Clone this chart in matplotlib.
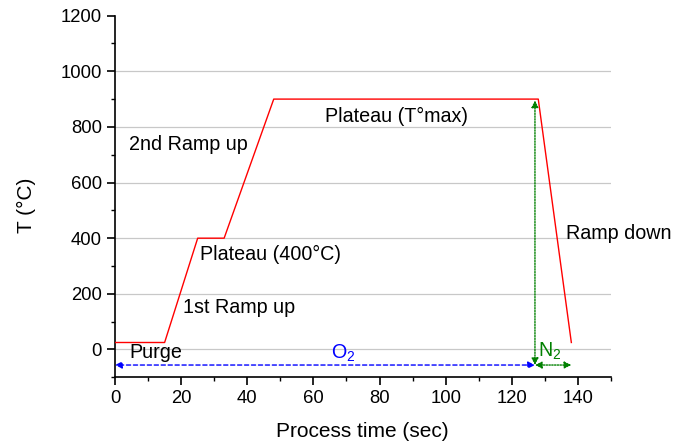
import matplotlib
matplotlib.use("Agg")
import matplotlib.pyplot as plt
from matplotlib.ticker import MultipleLocator

plt.rcParams['font.family'] = ['Liberation Sans', 'DejaVu Sans']
plt.rcParams['mathtext.fontset'] = 'custom'
plt.rcParams['mathtext.rm'] = 'Liberation Sans'
plt.rcParams['mathtext.it'] = 'Liberation Sans'

time_s = [0, 15, 25, 33, 48, 128, 138]
temp_c = [25, 25, 400, 400, 900, 900, 25]

o2_span = [0, 127]
n2_span = [127, 138]
arrow_y = -56
vert_arrow = [-56, 895]

labels = [
    ("2nd Ramp up", 4.3, 735, 'left', 'black'),
    ("Plateau (T°max)", 85, 836, 'center', 'black'),
    ("Plateau (400°C)", 25.8, 340, 'left', 'black'),
    ("1st Ramp up", 20.6, 152, 'left', 'black'),
    ("Purge", 4.2, -12, 'left', 'black'),
    ("Ramp down", 136.5, 418, 'left', 'black'),
]

fig = plt.figure(figsize=(6.83, 4.47), dpi=100)
ax = fig.add_axes([0.1684, 0.156, 0.7262, 0.809])

ax.plot(time_s, temp_c, color='red', lw=1.0, zorder=3)

ax.set_xlim(0, 150)
ax.set_ylim(-100, 1200)
ax.xaxis.set_major_locator(MultipleLocator(20))
ax.xaxis.set_minor_locator(MultipleLocator(10))
ax.yaxis.set_major_locator(MultipleLocator(200))
ax.yaxis.set_minor_locator(MultipleLocator(100))
ax.grid(axis='y', which='major', color='#c8c8c8', lw=0.9)
ax.set_axisbelow(True)
for s in ['top', 'right']:
    ax.spines[s].set_visible(False)
for s in ['left', 'bottom']:
    ax.spines[s].set_linewidth(1.2)
ax.tick_params(which='major', direction='out', length=6, width=1.2, labelsize=13.3)
ax.tick_params(which='minor', direction='out', length=3, width=1.0)

ax.set_xlabel("Process time (sec)", fontsize=15)
ax.set_ylabel("T (°C)", fontsize=15)
ax.xaxis.set_label_coords(0.498, -0.125)
ax.yaxis.set_label_coords(-0.16, 0.476)

# arrows
ax.annotate('', xy=(o2_span[0], arrow_y), xytext=(o2_span[1], arrow_y),
            arrowprops=dict(arrowstyle='<|-|>', color='blue', lw=1.0, ls=(0, (3, 2)),
                            mutation_scale=10, shrinkA=0, shrinkB=0))
ax.annotate('', xy=(n2_span[0], arrow_y), xytext=(n2_span[1], arrow_y),
            arrowprops=dict(arrowstyle='<|-|>', color='green', lw=1.0, ls=(0, (1, 1)),
                            mutation_scale=10, shrinkA=0, shrinkB=0))
ax.annotate('', xy=(o2_span[1], vert_arrow[0]), xytext=(o2_span[1], vert_arrow[1]),
            arrowprops=dict(arrowstyle='<|-|>', color='green', lw=1.0, ls=(0, (1, 1)),
                            mutation_scale=10, shrinkA=0, shrinkB=0))

for txt, x, y, ha, c in labels:
    ax.text(x, y, txt, ha=ha, va='center', fontsize=14.2, color=c)

ax.text(69, -13, "O$_2$", ha='center', va='center', fontsize=14.2, color='blue')
ax.text(131.5, -8, "N$_2$", ha='center', va='center', fontsize=14.2, color='green')

fig.canvas.draw()
for t in ax.yaxis.get_major_ticks():
    if abs(t.get_loc() - 1200) < 1e-6:
        t.gridline.set_visible(False)

fig.savefig("out.png", dpi=100)
